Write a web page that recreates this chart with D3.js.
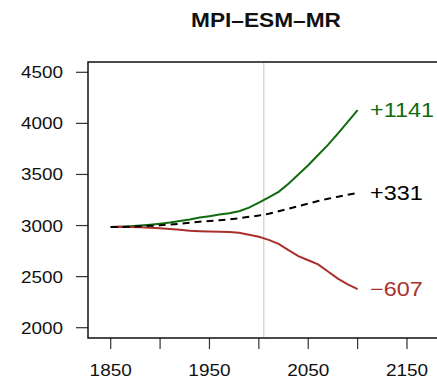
<!DOCTYPE html>
<html>
<head>
<meta charset="utf-8">
<script src="https://cdn.jsdelivr.net/npm/d3@7"></script>
<style>
  body { margin: 0; background: #fff; }
  svg { display: block; font-family: "Liberation Sans", Arial, sans-serif; }
</style>
</head>
<body>
<svg id="chart" width="437" height="384"></svg>
<script>
// donnees
var years = [1850,1860,1870,1880,1890,1900,1910,1920,1930,1940,1950,1960,1970,1980,1990,2000,2010,2020,2030,2040,2050,2060,2070,2080,2090,2100];
var high = [2985,2988,2993,3000,3008,3018,3030,3045,3060,3078,3092,3108,3120,3140,3175,3225,3275,3330,3410,3500,3590,3690,3790,3900,4015,4130];
var mid  = [2985,2986,2988,2992,2997,3002,3010,3018,3028,3038,3045,3052,3060,3072,3085,3098,3115,3140,3165,3190,3215,3240,3262,3282,3302,3318];
var low  = [2985,2987,2986,2983,2978,2973,2965,2958,2950,2945,2942,2940,2937,2930,2910,2890,2860,2820,2760,2700,2660,2620,2550,2480,2425,2378];
var endLabels = ["+1141", "+331", "\u2212607"];
var xTicks = [1850,1900,1950,2000,2050,2100,2150];
var xTickLabels = ["1850","","1950","","2050","","2150"];
var yTicks = [2000,2500,3000,3500,4000,4500];
var title = "MPI\u2013ESM\u2013MR";
var presentYear = 2005;

var svg = d3.select("#chart");
var x = d3.scaleLinear().domain([1850, 2150]).range([110.7, 407]);
var y = d3.scaleLinear().domain([2000, 4500]).range([327.7, 72.3]);

var boxL = 88, boxT = 62, boxB = 338;

// texte un peu etire horizontalement comme sur l'original
function addText(px, py, txt, size, sx, anchor, color, weight){
  return svg.append("text")
    .attr("transform", "translate(" + px + "," + py + ") scale(" + sx + ",1)")
    .attr("text-anchor", anchor)
    .attr("font-size", size)
    .attr("font-weight", weight || "normal")
    .attr("fill", color)
    .text(txt);
}

addText(266, 27, title, 21, 1.08, "middle", "#111", "bold");

// ligne verticale grise (present)
svg.append("line")
  .attr("x1", x(presentYear)).attr("x2", x(presentYear))
  .attr("y1", boxT).attr("y2", boxB)
  .attr("stroke", "#cfcfcf").attr("stroke-width", 1.2);

// axe y
yTicks.forEach(function(t){
  svg.append("line")
    .attr("x1", boxL - 12).attr("x2", boxL)
    .attr("y1", y(t)).attr("y2", y(t))
    .attr("stroke", "#333").attr("stroke-width", 1.2);
  addText(63, y(t) + 6, String(t), 16, 1.18, "end", "#111");
});

// axe x
xTicks.forEach(function(t, i){
  svg.append("line")
    .attr("x1", x(t)).attr("x2", x(t))
    .attr("y1", boxB).attr("y2", boxB + 11)
    .attr("stroke", "#333").attr("stroke-width", 1.2);
  if(xTickLabels[i] !== "") addText(x(t), 376, xTickLabels[i], 16.5, 1.15, "middle", "#111");
});

// cadre
svg.append("path")
  .attr("d", "M460," + boxT + "H" + boxL + "V" + boxB + "H460")
  .attr("fill", "none").attr("stroke", "#111").attr("stroke-width", 1.5);

var line = d3.line()
  .x(function(d, i){ return x(years[i]); })
  .y(function(d){ return y(d); });

var series = [
  {vals: high, color: "#106b10", dash: null, label: endLabels[0]},
  {vals: low, color: "#a8302c", dash: null, label: endLabels[2]},
  {vals: mid, color: "#000", dash: "7,5", label: endLabels[1]}
];

series.forEach(function(s){
  svg.append("path")
    .attr("d", line(s.vals))
    .attr("fill", "none")
    .attr("stroke", s.color)
    .attr("stroke-width", 2)
    .attr("stroke-dasharray", s.dash);
  var last = s.vals[s.vals.length - 1];
  addText(x(2100) + 12.5, y(last) + 7, s.label, 20, 1.17, "start", s.color);
});
</script>
</body>
</html>
